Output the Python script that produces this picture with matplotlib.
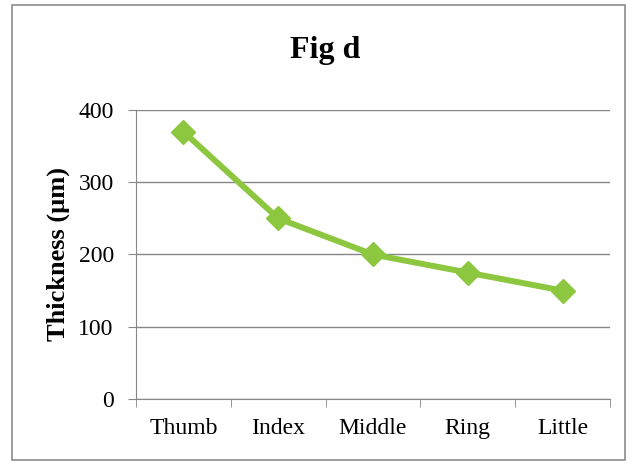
import matplotlib.pyplot as plt
from matplotlib.patches import Rectangle

fingers = ['Thumb', 'Index', 'Middle', 'Ring', 'Little']
thickness = [370, 250, 200, 175, 150]
yticks = [0, 100, 200, 300, 400]

plt.rcParams['font.family'] = ['Liberation Serif', 'DejaVu Serif']

fig = plt.figure(figsize=(6.37, 4.68), dpi=100)
fig.patches.append(Rectangle((0.019, 0.017), 0.962, 0.973, transform=fig.transFigure,
                             fill=False, edgecolor='#8c8c8c', linewidth=1.2))

ax = fig.add_axes([0.2135, 0.1474, 0.744, 0.6176])
x = range(len(fingers))
ax.plot(x, thickness, color='#8dc63f', linewidth=4.3, marker='D', markersize=12,
        solid_capstyle='round')

ax.set_xlim(-0.5, len(fingers) - 0.5)
ax.set_ylim(0, 400)
ax.set_yticks(yticks)
ax.set_xticks(list(x))
ax.set_xticklabels(fingers, fontsize=17)
ax.set_yticklabels([str(v) for v in yticks], fontsize=17)
ax.set_xticks([i - 0.5 for i in range(len(fingers) + 1)], minor=True)
ax.tick_params(axis='x', which='major', length=0, pad=14)
ax.tick_params(axis='x', which='minor', length=6, color='#868686', direction='out')
ax.tick_params(axis='y', length=6, color='#868686', pad=10)

ax.grid(axis='y', color='#868686', linewidth=1.0)
ax.set_axisbelow(True)
for side in ['top', 'right']:
    ax.spines[side].set_visible(False)
ax.spines['left'].set_color('#868686')
ax.spines['bottom'].set_color('#868686')

ax.set_ylabel('Thickness (µm)', fontsize=19, fontweight='bold', labelpad=6)
fig.text(0.51, 0.893, 'Fig d', ha='center', va='center', fontsize=23, fontweight='bold')

fig.savefig('out.png', dpi=100)
